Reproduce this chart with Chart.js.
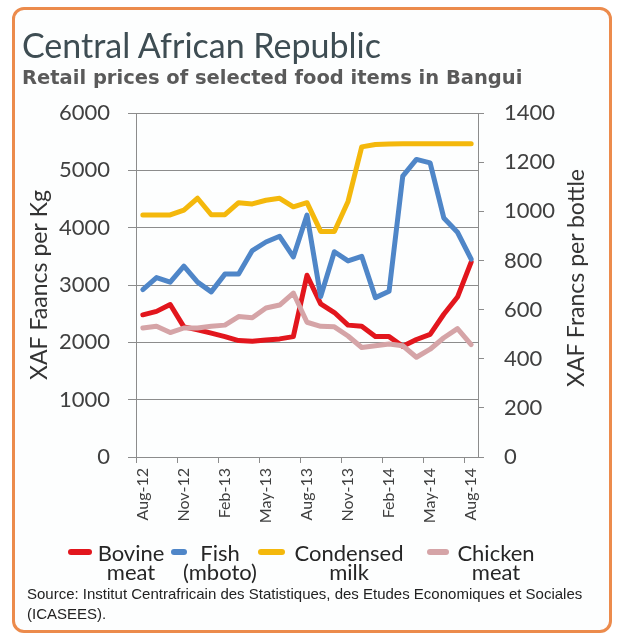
<!DOCTYPE html>
<html>
<head>
<meta charset="utf-8">
<script src="https://cdn.jsdelivr.net/npm/chart.js@4/dist/chart.umd.min.js"></script>
<style>
  html, body { margin:0; padding:0; background:#ffffff; width:622px; height:638px; overflow:hidden; }
  #frame { position:absolute; left:12px; top:7px; width:594px; height:620px; border:3px solid #ec8b4c; border-radius:12px; background:#fdfefe; box-sizing:content-box; }
  canvas { position:absolute; left:0; top:0; }
  .txt { position:absolute; white-space:nowrap; }
  #title { left:22px; top:28px; font:34px Lato, sans-serif; line-height:34px; color:#3e4d53; }
  #subtitle { left:22px; top:68px; font:bold 19.5px "DejaVu Sans", sans-serif; line-height:19px; color:#5a5a5a; }
  #ytitle2 { left:575px; top:278px; font:23px Lato, sans-serif; color:#333; transform:translate(-50%,-50%) rotate(-90deg); }
  .lgmark { position:absolute; height:6px; border-radius:3px; }
  .lgtext { position:absolute; font:22px Lato, sans-serif; line-height:19px; color:#262626; text-align:center; transform:translateX(-50%); white-space:nowrap; }
  #source { left:27px; top:584px; font:15px "Liberation Sans", Arial, sans-serif; line-height:20px; color:#222; }
</style>
</head>
<body>
<div id="frame"></div>
<canvas id="c" width="622" height="638"></canvas>
<div class="txt" id="title">Central African Republic</div>
<div class="txt" id="subtitle">Retail prices of selected food items in Bangui</div>
<div class="txt" id="ytitle2">XAF Francs per bottle</div>
<div id="legend"></div>
<div class="txt" id="source">Source: Institut Centrafricain des Statistiques, des Etudes Economiques et Sociales<br>(ICASEES).</div>
<script>
// ---- data ----
const months = ["Aug-12","Sep-12","Oct-12","Nov-12","Dec-12","Jan-13","Feb-13","Mar-13","Apr-13","May-13","Jun-13","Jul-13",
                "Aug-13","Sep-13","Oct-13","Nov-13","Dec-13","Jan-14","Feb-14","Mar-14","Apr-14","May-14","Jun-14","Jul-14","Aug-14"];
const seriesNames = [["Bovine","meat"],["Fish","(mboto)"],["Condensed","milk"],["Chicken","meat"]];
const bovineMeat    = [2480,2540,2660,2270,2220,2160,2100,2030,2020,2040,2060,2100,3170,2670,2520,2300,2280,2100,2100,1930,2050,2140,2490,2790,3400];
const fishMboto     = [2920,3130,3050,3330,3050,2880,3190,3190,3600,3750,3850,3490,4220,2800,3580,3420,3500,2780,2890,4900,5190,5130,4170,3920,3450];
const condensedMilk = [985,985,985,1005,1053,986,986,1035,1030,1045,1053,1018,1035,918,918,1040,1262,1272,1274,1275,1275,1275,1275,1275,1275];
const chickenMeat   = [2250,2280,2170,2250,2250,2280,2300,2450,2430,2600,2650,2860,2350,2280,2270,2110,1910,1940,1970,1940,1740,1880,2080,2240,1960];
const leftTicks  = {min:0, max:6000, step:1000};
const rightTicks = {min:0, max:1400, step:200};

// ---- styles ----
const colors = ["#e2161d","#4f86c8","#f4b80c","#d5a4a7"];
const gridColor = "#8c8c8c";
const tickFont = {family:"Lato", size:22};

const ds = [
  {label:seriesNames[0].join(" "), data:bovineMeat,    yAxisID:"y",  order:3},
  {label:seriesNames[1].join(" "), data:fishMboto,     yAxisID:"y",  order:2},
  {label:seriesNames[2].join(" "), data:condensedMilk, yAxisID:"y1", order:1},
  {label:seriesNames[3].join(" "), data:chickenMeat,   yAxisID:"y",  order:0}
].map((d,i)=>Object.assign(d,{borderColor:colors[i],backgroundColor:colors[i],borderWidth:5,pointRadius:0,
   tension:0,fill:false,borderJoinStyle:"round",borderCapStyle:"round"}));

new Chart(document.getElementById("c"), {
  type:"line",
  data:{labels:months, datasets:ds},
  options:{
    responsive:false, animation:false, devicePixelRatio:1,
    layout:{padding:{left:14,right:12,top:113,bottom:108}},
    plugins:{legend:{display:false}, tooltip:{enabled:false}},
    scales:{
      x:{
        type:"category", offset:true,
        grid:{offset:true, drawOnChartArea:false, drawTicks:true, tickLength:6,
              color:(ctx)=> (ctx.index % 3 === 0 ? gridColor : "rgba(0,0,0,0)")},
        border:{display:true, color:gridColor},
        ticks:{autoSkip:false, minRotation:90, maxRotation:90, padding:5, color:"#404040",
               font:{family:"Lato", size:16},
               callback:(v,i)=> (i % 3 === 0 ? months[i] : "")},
        afterFit:(s)=>{ s.height = 73; }
      },
      y:{
        position:"left", min:leftTicks.min, max:leftTicks.max,
        ticks:{stepSize:leftTicks.step, padding:18, color:"#404040", font:tickFont, callback:(v)=>String(v)},
        grid:{color:gridColor, lineWidth:1, tickLength:8},
        border:{display:true, color:gridColor},
        title:{display:true, text:"XAF Faancs per Kg", color:"#333", font:{family:"Lato", size:23}, padding:{top:12,bottom:0}},
        afterFit:(s)=>{ s.width = 122; }
      },
      y1:{
        position:"right", min:rightTicks.min, max:rightTicks.max,
        ticks:{stepSize:rightTicks.step, padding:20, color:"#404040", font:tickFont, callback:(v)=>String(v)},
        grid:{drawOnChartArea:false, color:gridColor, tickLength:6},
        border:{display:true, color:gridColor},
        afterFit:(s)=>{ s.width = 132; }
      }
    }
  }
});

// ---- HTML legend built from series names ----
const legendPos = [{mx:68,mw:24,cx:131},{mx:171,mw:16,cx:220},{mx:258,mw:27,cx:349},{mx:427,mw:22,cx:496}];
const lg = document.getElementById("legend");
seriesNames.forEach((nm,i)=>{
  const m = document.createElement("div");
  m.className = "lgmark";
  m.style.left = legendPos[i].mx + "px"; m.style.top = "549px"; m.style.width = legendPos[i].mw + "px";
  m.style.background = colors[i];
  lg.appendChild(m);
  const t = document.createElement("div");
  t.className = "lgtext";
  t.style.left = legendPos[i].cx + "px"; t.style.top = "543px";
  t.innerHTML = nm[0] + "<br>" + nm[1];
  lg.appendChild(t);
});
</script>
</body>
</html>
